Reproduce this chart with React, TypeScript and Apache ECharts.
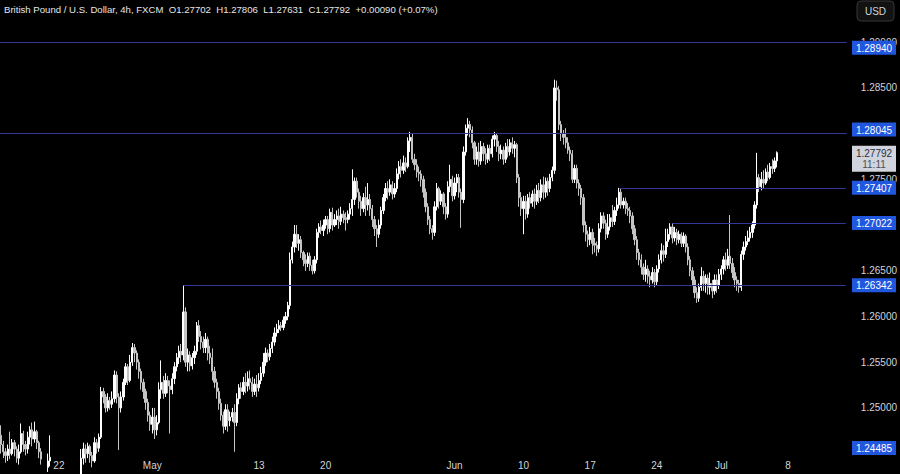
import React, { useEffect, useRef } from "react";
import * as echarts from "echarts";

// Prices are stored as pips above 1.2400; each candle is [open, close, low, high]
const BASE = 1.24;
const PIP = 0.0001;

const weekApr15 = [
  [70,60,50,81],[60,52,45,64],[52,48,40,56],[48,55,42,60],[55,50,44,74],[50,62,48,66],
  [62,55,47,65],[55,45,40,58],[45,52,38,60],[52,72,50,83],[72,60,52,75],[60,55,48,64],
  [55,68,50,74],[68,76,60,80],[76,66,58,84],[66,74,62,85],[74,62,55,76],[62,52,45,64],
  [52,44,38,56],[44,40,32,48],[40,35,28,44],[35,42,30,50],[42,46,36,70],[46,30,24,48],
  [30,10,0,34],[10,5,-10,20],
];
const weekApr22 = [
  [5,15,-2,22],[15,-20,-30,18],[-20,-40,-50,-15],[-40,-60,-70,-35],[-60,-75,-100,-50],[-75,-55,-85,-50],
  [-55,-40,-65,-35],[-40,-20,-45,-15],[-20,0,-25,5],[0,20,-5,30],[20,45,15,55],[45,55,38,62],
  [55,50,40,60],[50,58,45,62],[58,48,40,60],[48,42,35,52],[42,62,40,68],[62,56,50,66],
  [56,68,52,72],[68,118,66,123],[118,112,105,122],[112,100,95,115],[100,108,96,116],[108,104,98,112],
  [104,110,100,118],[110,136,106,141],[136,112,105,140],[112,100,54,116],[100,112,95,118],[112,128,108,132],
];
const weekApr29 = [
  [128,145,125,149],[145,130,125,148],[130,150,128,158],[150,166,146,171],[166,160,150,170],[160,150,142,163],
  [150,140,132,153],[140,128,120,143],[128,118,110,132],[118,106,98,121],[106,92,85,110],[92,82,75,96],
  [82,90,72,100],[90,76,66,100],[76,84,70,92],[84,120,82,128],[120,128,110,152],[128,116,110,135],
  [116,130,112,138],[130,124,116,135],[124,120,72,130],[120,132,115,138],[132,145,126,150],[145,155,140,160],
  [155,162,148,168],[162,158,150,170],[158,205,152,234.2],[205,150,145,210],[150,158,140,165],[158,146,140,162],
];
const weekMay6 = [
  [146,155,142,160],[155,162,148,168],[162,190,158,194],[190,178,172,196],[178,172,164,184],[172,166,160,178],
  [166,175,160,182],[175,160,152,178],[160,155,148,168],[155,140,130,165],[140,128,122,145],[128,118,110,132],
  [118,105,98,122],[105,92,86,110],[92,80,72,96],[80,98,76,104],[98,86,74,104],[86,90,80,96],
  [90,95,85,100],[95,84,52,104],[84,110,80,116],[110,122,104,126],[122,118,110,128],[118,128,114,134],
  [128,124,116,138],[124,132,118,140],[132,128,120,141],[128,118,112,134],[118,126,114,132],[126,122,112,136],
];
const weekMay13 = [
  [122,130,118,138],[130,138,126,145],[138,150,134,160],[150,160,146,166],[160,156,150,164],[156,165,152,170],
  [165,172,160,178],[172,182,168,188],[182,186,178,192],[186,190,182,196],[190,188,184,194],[188,196,185,200],
  [196,200,192,205],[200,212,196,216],[212,262,208,270],[262,276,258,282],[276,290,270,300],[290,280,275,300],
  [280,284,272,290],[284,270,264,288],[270,262,255,272],[262,258,250,268],[258,266,254,270],[266,256,250,270],
  [256,250,246,262],[250,262,247,266],[262,292,258,296],[292,298,286,302],[298,294,290,305],[294,300,288,306],
];
const weekMay20 = [
  [300,306,296,310],[306,296,290,310],[296,314,292,318],[314,300,294,319],[300,306,298,312],[306,310,300,316],
  [310,304,296,318],[304,312,300,320],[312,308,302,316],[308,306,294,314],[306,312,302,316],[312,318,306,324],
  [318,328,310,361],[328,348,322,352],[348,336,330,352],[336,326,318,340],[326,318,310,332],[318,330,314,335],
  [330,322,310,342],[322,328,316,346],[328,318,310,334],[318,306,298,322],[306,296,288,310],[296,290,276,300],
  [290,300,286,306],[300,316,296,320],[316,330,312,334],[330,340,326,346],[340,336,328,348],[336,344,332,350],
];
const weekMay27 = [
  [344,334,328,348],[334,340,330,346],[340,356,336,362],[356,364,350,370],[364,360,352,372],[360,368,356,376],
  [368,364,358,374],[364,392,362,396],[392,396,380,402],[396,372,368,400],[372,366,360,378],[366,358,352,372],
  [358,356,348,364],[356,350,342,360],[350,336,330,354],[336,320,314,340],[320,306,300,324],[306,296,290,310],
  [296,292,284,300],[292,320,288,326],[320,340,316,346],[340,326,318,342],[326,334,322,338],[334,320,312,336],
  [320,312,306,324],[312,342,308,348],[342,350,336,366],[350,332,326,354],
];
const weekJun3 = [
  [332,346,328,352],[346,352,336,356],[352,336,330,356],[336,328,297,340],[328,380,324,386],[380,406,376,410],
  [406,410,398,417],[410,404,396,414],[404,390,384,408],[390,372,366,392],[372,380,366,386],[380,370,364,390],
  [370,386,366,392],[386,378,370,390],[378,372,366,384],[372,384,368,388],[384,378,370,388],[378,394,374,398],
  [394,398,386,402],[398,386,380,400],[386,378,370,392],[378,382,372,388],[382,372,366,386],[372,386,368,390],
  [386,380,374,394],[380,390,376,394],[390,384,378,396],[384,388,374,392],[388,352,346,390],[352,330,320,356],
  [330,318,310,336],
];
const weekJun10 = [
  [318,326,290,332],[326,312,306,332],[312,330,308,334],[330,324,318,336],[324,334,320,338],[334,326,318,340],
  [326,338,322,344],[338,330,324,346],[330,344,326,350],[344,336,328,353],[336,348,330,352],[348,340,332,352],
  [340,352,336,356],[352,360,348,364],[360,450,356,459],[450,448,436,458],[448,410,404,452],[410,400,392,414],
  [400,396,388,404],[396,390,384,406],[390,382,378,396],[382,378,370,386],[378,350,346,382],[350,362,346,366],
  [362,346,340,366],[346,340,332,350],[340,330,322,344],[330,300,292,334],[300,290,282,304],[290,284,276,294],
];
const weekJun17 = [
  [284,292,278,298],[292,280,268,296],[280,278,270,286],[278,274,266,282],[274,296,270,302],[296,310,292,314],
  [310,302,296,314],[302,290,284,306],[290,298,286,312],[298,308,294,312],[308,304,298,322],[304,316,300,320],
  [316,322,310,330],[322,336,318,340.7],[336,322,318,340],[322,326,318,330],[326,318,312,330],[318,316,310,324],
  [316,310,302,320],[310,296,290,314],[296,284,278,300],[284,270,262,288],[270,262,256,274],[262,254,246,268],
  [254,246,240,258],[246,252,238,262],[252,244,236,256],[244,240,232,250],[240,248,236,254],[248,238,232,252],
];
const weekJun24 = [
  [238,252,234,256],[252,262,248,268],[262,272,258,280],[272,268,260,278],[268,282,264,296],[282,290,276,296],
  [290,298,284,302],[298,286,280,302.2],[286,292,282,298],[292,284,278,296],[284,290,280,294],[290,280,276,292],
  [280,288,276,292],[288,276,270,290],[276,262,256,280],[262,250,244,266],[250,240,234,254],[240,226,220,244],
  [226,220,215,232],[220,232,216,236],[232,244,228,254],[244,236,228,250],[236,242,226,246],[242,232,224,246],
  [232,236,224,248],[236,228,220,240],[228,240,224,246],[240,234,226,246],[234,246,230,252],
];
const weekJul1 = [
  [246,252,240,256],[252,262,246,266],[262,256,250,270],[256,266,252,274],[266,258,252,311],[258,248,242,264],
  [248,240,232,254],[240,236,228,244],[236,232,226,240],[232,268,228,272],[268,276,262,282],[276,282,272,288],
  [282,286,278,294],[286,292,282,298],[292,300,286,304],[300,322,296,326],[322,352,318,379],[352,342,336,356],
  [342,350,338,358],[350,346,340,360],[346,358,344,362],[358,352,348,366],[352,364,350,368],[364,362,356,372],
  [362,370.2,358,374],[370.2,379.2,363.1,380.6],
];

const candleWeeks = [
  weekApr15, weekApr22, weekApr29, weekMay6, weekMay13, weekMay20,
  weekMay27, weekJun3, weekJun10, weekJun17, weekJun24, weekJul1,
];

// Horizontal levels and the candle index where each drawn line begins
const levelPrices = [1.2894, 1.28045, 1.27407, 1.27022, 1.26342, 1.24485];
const levelStartIndex = [0, 0, 278, 302, 82, 0];

const dateLabels = ["22", "May", "13", "20", "Jun", "10", "17", "24", "Jul", "8"];
const dateLabelIndex = [26, 68, 116, 146, 204, 235, 265, 295, 324, 354];

const SLOT_COUNT = 381; // candles plus empty future bars on the time axis
const Y_MIN = 1.24485;
const Y_MAX = 1.29462;

const headerText =
  "British Pound / U.S. Dollar, 4h, FXCM  O1.27702  H1.27806  L1.27631  C1.27792  +0.00090 (+0.07%)";
const lastPrice = 1.27792;
const countdown = "11:11";
const currencyButton = "USD";

const FONT = "'Liberation Sans', Arial, sans-serif";
const TEXT = "#d1d4dc";

export default function App() {
  const ref = useRef<HTMLDivElement>(null);

  useEffect(() => {
    document.body.style.margin = "0";
    document.body.style.background = "#000";
    if (!ref.current) return;
    const chart = echarts.init(ref.current, undefined, { renderer: "svg" });

    const candles = candleWeeks
      .flat()
      .map((c) => c.map((v) => +(BASE + v * PIP).toFixed(5)));
    const categories = Array.from({ length: SLOT_COUNT }, (_, i) => String(i));
    const labelMap = new Map<number, string>();
    dateLabelIndex.forEach((idx, k) => labelMap.set(idx, dateLabels[k]));

    const markData: any[] = levelPrices.map((v, k) =>
      levelStartIndex[k] === 0
        ? { yAxis: v }
        : [{ coord: [levelStartIndex[k], v] }, { coord: [SLOT_COUNT - 1, v] }]
    );

    // price-scale labels that sit right under a level tag are hidden, like TradingView does
    const hiddenByTag = (v: number) => levelPrices.some((lv) => Math.abs(lv - v) < 0.0005);

    chart.setOption({
      animation: false,
      backgroundColor: "#000000",
      grid: { left: 0, right: 52, top: 0, bottom: 19 },
      xAxis: {
        type: "category",
        data: categories,
        boundaryGap: true,
        axisLine: { show: false },
        axisTick: { show: false },
        splitLine: { show: false },
        axisLabel: {
          interval: (idx: number) => labelMap.has(idx),
          formatter: (_v: string, idx: number) => labelMap.get(idx) ?? "",
          color: TEXT,
          fontSize: 10,
          fontFamily: FONT,
          margin: 5,
        },
      },
      yAxis: {
        type: "value",
        position: "right",
        min: Y_MIN,
        max: Y_MAX,
        minInterval: 0.005,
        maxInterval: 0.005,
        splitLine: { show: false },
        axisLine: { show: false },
        axisTick: { show: false },
        axisLabel: {
          showMinLabel: false,
          showMaxLabel: false,
          formatter: (v: number) =>
            v > 1.2455 && !hiddenByTag(v) && Math.abs(v / 0.005 - Math.round(v / 0.005)) < 1e-6
              ? v.toFixed(5)
              : "",
          color: TEXT,
          fontSize: 10,
          fontFamily: FONT,
          margin: 14,
          align: "left",
        },
      },
      series: [
        {
          type: "candlestick",
          data: candles,
          barWidth: 1.8,
          itemStyle: {
            color: "#ffffff",
            color0: "#c4c4c4",
            borderColor: "#ffffff",
            borderColor0: "#c4c4c4",
            borderWidth: 1,
          },
          markLine: {
            silent: true,
            animation: false,
            symbol: ["none", "none"],
            label: { show: false },
            lineStyle: { color: "#33379a", width: 1, type: "solid" },
            data: markData,
          },
        },
      ],
    });

    const yPix = (v: number) => chart.convertToPixel({ yAxisIndex: 0 }, v) as number;
    const graphics: any[] = [];
    const Z = 1000;

    graphics.push({
      type: "text",
      z: Z,
      style: {
        x: 4,
        y: 9,
        text: headerText,
        fill: "#e6e6e6",
        font: `9.6px ${FONT}`,
        textVerticalAlign: "middle",
        verticalAlign: "middle",
      },
    });

    graphics.push({
      type: "rect",
      z: Z,
      shape: { x: 857, y: 1, width: 37, height: 20, r: 4 },
      style: { fill: "#121212", stroke: "#363636", lineWidth: 1 },
    });
    graphics.push({
      type: "text",
      z: Z + 1,
      style: {
        x: 875.5,
        y: 11,
        text: currencyButton,
        fill: TEXT,
        font: `10px ${FONT}`,
        textAlign: "center",
        align: "center",
        textVerticalAlign: "middle",
        verticalAlign: "middle",
      },
    });

    levelPrices.forEach((v) => {
      const top = Math.min(Math.max(yPix(v) - 7, 0), 441);
      graphics.push({
        type: "rect",
        z: Z,
        shape: { x: 852, y: top, width: 44, height: 14 },
        style: { fill: "#2156df" },
      });
      graphics.push({
        type: "text",
        z: Z + 1,
        style: {
          x: 874,
          y: top + 7.5,
          text: v.toFixed(5),
          fill: "#ffffff",
          font: `10px ${FONT}`,
          textAlign: "center",
          align: "center",
          textVerticalAlign: "middle",
          verticalAlign: "middle",
        },
      });
    });

    const py = yPix(lastPrice);
    graphics.push({
      type: "rect",
      z: Z + 2,
      shape: { x: 852, y: py - 7, width: 44, height: 26 },
      style: { fill: "#d1d4dc" },
    });
    graphics.push({
      type: "text",
      z: Z + 3,
      style: {
        x: 874,
        y: py + 0.5,
        text: lastPrice.toFixed(5),
        fill: "#2a2e39",
        font: `10px ${FONT}`,
        textAlign: "center",
        align: "center",
        textVerticalAlign: "middle",
        verticalAlign: "middle",
      },
    });
    graphics.push({
      type: "text",
      z: Z + 3,
      style: {
        x: 874,
        y: py + 12,
        text: countdown,
        fill: "#4a4e59",
        font: `10px ${FONT}`,
        textAlign: "center",
        align: "center",
        textVerticalAlign: "middle",
        verticalAlign: "middle",
      },
    });

    chart.setOption({ graphic: graphics });

    return () => chart.dispose();
  }, []);

  return (
    <div
      ref={ref}
      style={{ position: "fixed", left: 0, top: 0, width: 900, height: 474, background: "#000" }}
    />
  );
}
